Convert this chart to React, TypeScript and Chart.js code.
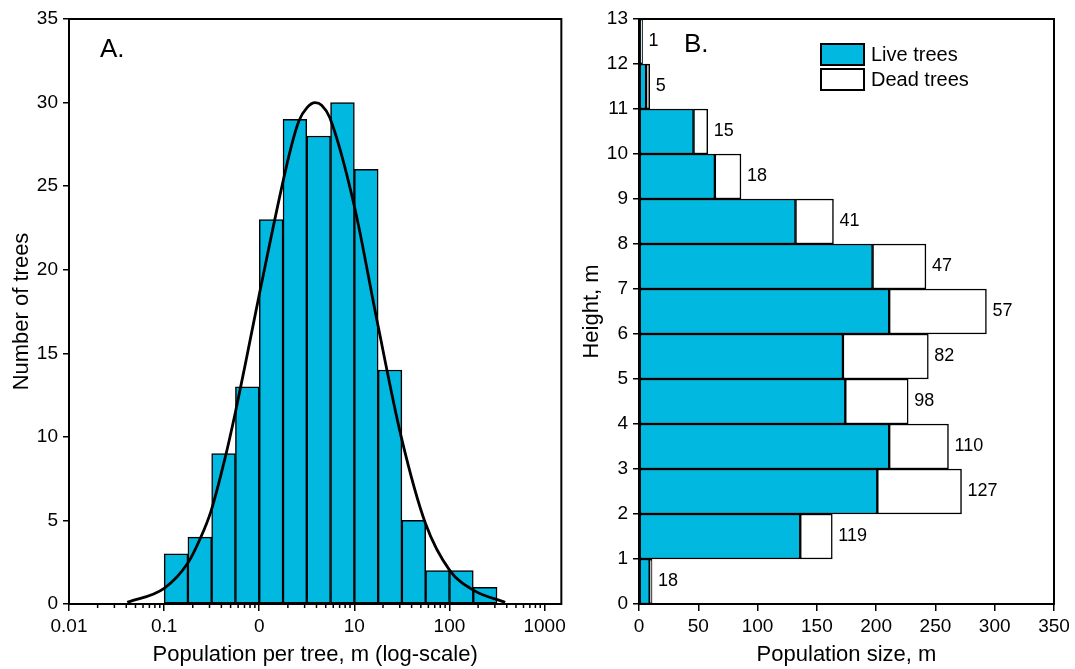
import React, { useEffect, useRef } from "react";
import { Chart, registerables } from "chart.js";
Chart.register(...registerables);

const FONT = "'Liberation Sans', Arial, sans-serif";
const CYAN = "#00B8E0";

// ---- Panel A: histogram on log axis ----
const histBinEdges = [0.1, 0.178, 0.316, 0.562, 1, 1.78, 3.16, 5.62, 10, 17.8, 31.6, 56.2, 100, 178, 316];
const histCounts = [3, 4, 9, 13, 23, 29, 28, 30, 26, 14, 5, 2, 2, 1];
const curveX = [0.041, 0.1, 0.177, 0.236, 0.31, 0.441, 0.558, 0.705, 1.0, 2.07, 2.61, 3.18, 3.87, 4.53, 5.51, 10, 17.3, 31.1, 56.1, 101, 182, 385];
const curveY = [0.1, 0.94, 2.44, 3.83, 5.53, 8.82, 11.4, 14.2, 18.5, 26.9, 28.9, 29.7, 30.0, 29.84, 29.1, 23.8, 16.96, 10.0, 4.8, 2.0, 0.8, 0.1];
const logTickValues = [0.01, 0.1, 1, 10, 100, 1000];
const logTickLabels = ["0.01", "0.1", "0", "10", "100", "1000"];

// ---- Panel B: stacked horizontal bars ----
const heightLower = [0, 1, 2, 3, 4, 5, 6, 7, 8, 9, 10, 11, 12];
const liveTrees = [9, 136, 201, 211, 174, 172, 211, 197, 132, 64, 46, 6, 1];
const deadTrees = [2, 27, 71, 50, 53, 72, 82, 45, 32, 22, 12, 3, 2];
const treeCounts = [18, 119, 127, 110, 98, 82, 57, 47, 41, 18, 15, 5, 1];
const legendLabels = ["Live trees", "Dead trees"];

const histCenters = histCounts.map((_, i) => Math.sqrt(histBinEdges[i] * histBinEdges[i + 1]));

const leftPlugin = {
  id: "leftDecor",
  afterDatasetsDraw(chart: any) {
    const { ctx, chartArea: a, scales } = chart;
    const x = scales.x;
    ctx.save();
    ctx.strokeStyle = "#000";
    ctx.lineWidth = 2;
    ctx.strokeRect(a.left, a.top, a.right - a.left, a.bottom - a.top);
    ctx.lineWidth = 1.5;
    ctx.beginPath();
    for (const d of logTickValues) {
      for (let m = 2; m <= 9; m++) {
        const v = d * m;
        if (v > x.max) break;
        const px = x.getPixelForValue(v);
        ctx.moveTo(px, a.bottom);
        ctx.lineTo(px, a.bottom + 4);
      }
    }
    ctx.stroke();
    ctx.fillStyle = "#000";
    ctx.font = `26px ${FONT}`;
    ctx.textAlign = "left";
    ctx.textBaseline = "alphabetic";
    ctx.fillText("A.", a.left + 31, a.top + 38);
    ctx.restore();
  },
};

const rightPlugin = {
  id: "rightDecor",
  afterDatasetsDraw(chart: any) {
    const { ctx, chartArea: a, scales } = chart;
    const x = scales.x;
    const y = scales.y;
    ctx.save();
    ctx.strokeStyle = "#000";
    ctx.lineWidth = 2;
    ctx.strokeRect(a.left, a.top, a.right - a.left, a.bottom - a.top);
    ctx.fillStyle = "#000";
    ctx.font = `18px ${FONT}`;
    ctx.textAlign = "left";
    ctx.textBaseline = "middle";
    treeCounts.forEach((n, i) => {
      const px = x.getPixelForValue(liveTrees[i] + deadTrees[i]) + 6;
      const py = y.getPixelForValue(heightLower[i] + 0.5);
      ctx.fillText(String(n), px, py);
    });
    ctx.font = `26px ${FONT}`;
    ctx.textBaseline = "alphabetic";
    ctx.fillText("B.", a.left + 45, a.top + 33);
    // legend
    const bx = a.left + 182;
    const by = a.top + 25;
    const fills = [CYAN, "#fff"];
    ctx.font = `20px ${FONT}`;
    ctx.textBaseline = "middle";
    legendLabels.forEach((lab, i) => {
      const yy = by + i * 25;
      ctx.fillStyle = fills[i];
      ctx.fillRect(bx, yy, 43, 21);
      ctx.strokeStyle = "#000";
      ctx.lineWidth = 2;
      ctx.strokeRect(bx, yy, 43, 21);
      ctx.fillStyle = "#000";
      ctx.fillText(lab, bx + 50, yy + 11);
    });
    ctx.restore();
  },
};

const tickFont = { family: FONT, size: 19 };
const titleFont = { family: FONT, size: 22 };

export default function App() {
  const leftRef = useRef<HTMLCanvasElement>(null);
  const rightRef = useRef<HTMLCanvasElement>(null);

  useEffect(() => {
    const left = new Chart(leftRef.current as HTMLCanvasElement, {
      type: "bar",
      data: {
        datasets: [
          {
            type: "line",
            data: curveX.map((v, i) => ({ x: v, y: curveY[i] })),
            borderColor: "#000",
            borderWidth: 2.8,
            pointRadius: 0,
            cubicInterpolationMode: "monotone",
            fill: false,
            order: 0,
          } as any,
          {
            type: "bar",
            data: histCenters.map((v, i) => ({ x: v, y: histCounts[i] })),
            backgroundColor: CYAN,
            borderColor: "#000",
            borderWidth: 1.5,
            borderSkipped: false,
            barThickness: "flex",
            categoryPercentage: 1,
            barPercentage: 1,
            order: 1,
          } as any,
        ],
      },
      options: {
        responsive: false,
        animation: false,
        events: [],
        layout: { padding: { left: 0, right: 8, top: 19, bottom: 0 } },
        plugins: { legend: { display: false }, tooltip: { enabled: false } },
        scales: {
          x: {
            type: "logarithmic",
            min: 0.01,
            max: 1500,
            offset: false,
            afterBuildTicks: (scale: any) => {
              scale.ticks = logTickValues.map((v) => ({ value: v, major: true }));
            },
            afterFit: (scale: any) => {
              scale.height = 65;
            },
            grid: { display: true, offset: false, drawOnChartArea: false, drawTicks: true, tickLength: 7, color: "#000", lineWidth: 1.5 },
            border: { display: false },
            ticks: {
              autoSkip: false,
              maxRotation: 0,
              padding: 4,
              color: "#000",
              font: tickFont,
              callback: (v: any) => {
                const idx = logTickValues.findIndex((t) => Math.abs(t - v) / t < 1e-6);
                return idx >= 0 ? logTickLabels[idx] : "";
              },
            },
            title: { display: true, text: "Population per tree, m (log-scale)", color: "#000", font: titleFont, padding: { top: 0, bottom: 1 } },
          },
          y: {
            type: "linear",
            min: 0,
            max: 35,
            afterFit: (scale: any) => {
              scale.width = 69;
            },
            ticks: { stepSize: 5, color: "#000", font: tickFont, padding: 5 },
            grid: { display: true, drawOnChartArea: false, drawTicks: true, tickLength: 6, color: "#000", lineWidth: 1.5 },
            border: { display: false },
            title: { display: true, text: "Number of trees", color: "#000", font: titleFont, padding: { top: 9, bottom: 0 } },
          },
        },
      } as any,
      plugins: [leftPlugin],
    });

    const right = new Chart(rightRef.current as HTMLCanvasElement, {
      type: "bar",
      data: {
        datasets: [
          {
            data: heightLower.map((h, i) => ({ x: liveTrees[i], y: h + 0.5 })),
            backgroundColor: CYAN,
            borderColor: "#000",
            borderWidth: 1.5,
            borderSkipped: false,
            grouped: false,
            categoryPercentage: 1,
            barPercentage: 1,
          } as any,
          {
            data: heightLower.map((h, i) => ({ x: [liveTrees[i], liveTrees[i] + deadTrees[i]], y: h + 0.5 })),
            backgroundColor: "#fff",
            borderColor: "#000",
            borderWidth: 1.5,
            borderSkipped: false,
            grouped: false,
            categoryPercentage: 1,
            barPercentage: 1,
          } as any,
        ],
      },
      options: {
        indexAxis: "y",
        responsive: false,
        animation: false,
        events: [],
        layout: { padding: { left: 0, right: 21, top: 19, bottom: 0 } },
        plugins: { legend: { display: false }, tooltip: { enabled: false } },
        scales: {
          x: {
            type: "linear",
            min: 0,
            max: 350,
            afterFit: (scale: any) => {
              scale.height = 65;
            },
            ticks: { stepSize: 50, color: "#000", font: tickFont, padding: 4, maxRotation: 0 },
            grid: { display: true, drawOnChartArea: false, drawTicks: true, tickLength: 7, color: "#000", lineWidth: 1.5 },
            border: { display: false },
            title: { display: true, text: "Population size, m", color: "#000", font: titleFont, padding: { top: 0, bottom: 1 } },
          },
          y: {
            type: "linear",
            min: 0,
            max: 13,
            offset: false,
            afterFit: (scale: any) => {
              scale.width = 69;
            },
            ticks: { stepSize: 1, color: "#000", font: tickFont, padding: 5 },
            grid: { display: true, offset: false, drawOnChartArea: false, drawTicks: true, tickLength: 6, color: "#000", lineWidth: 1.5 },
            border: { display: false },
            title: { display: true, text: "Height, m", color: "#000", font: titleFont, padding: { top: 9, bottom: 0 } },
          },
        },
      } as any,
      plugins: [rightPlugin],
    });

    return () => {
      left.destroy();
      right.destroy();
    };
  }, []);

  return (
    <div style={{ position: "absolute", left: 0, top: 0, width: 1075, height: 669, background: "#fff" }}>
      <canvas ref={leftRef} width={570} height={669} style={{ position: "absolute", left: 0, top: 0 }} />
      <canvas ref={rightRef} width={505} height={669} style={{ position: "absolute", left: 570, top: 0 }} />
    </div>
  );
}
